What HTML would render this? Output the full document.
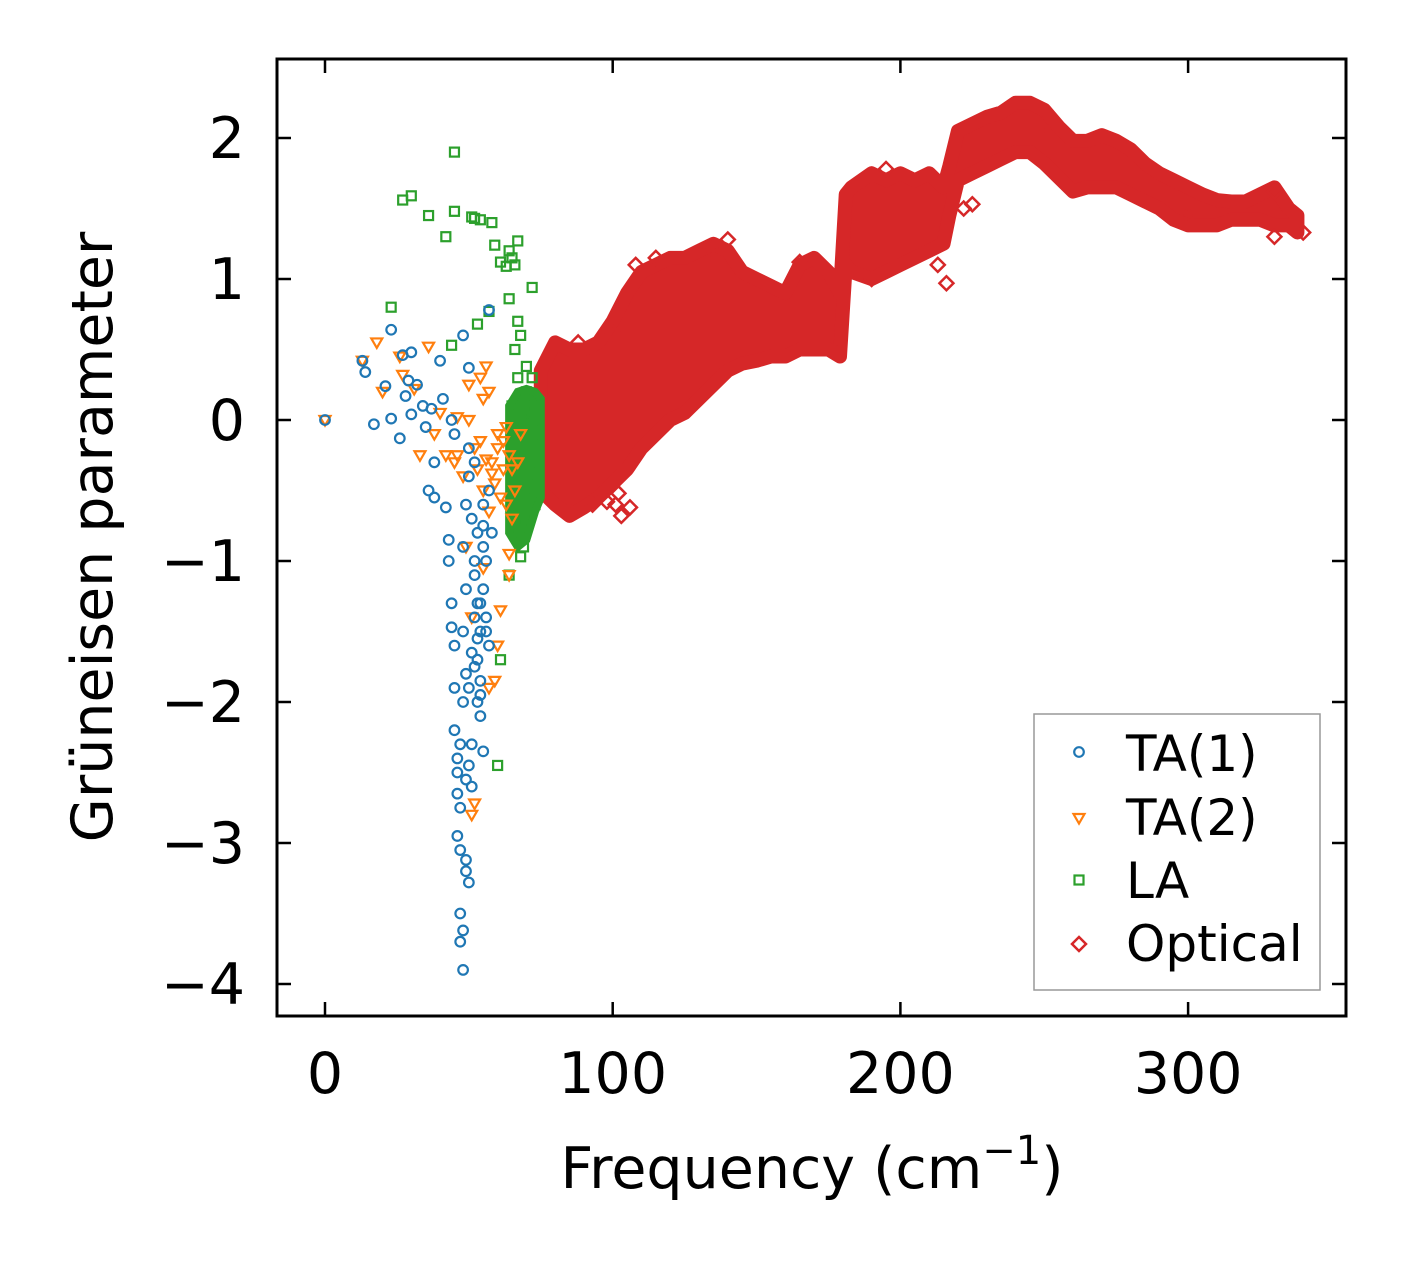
<!DOCTYPE html>
<html><head><meta charset="utf-8">
<style>
html,body{margin:0;padding:0;background:#fff;}
svg text{font-family:"DejaVu Sans","Liberation Sans",sans-serif;fill:#000;}
</style></head>
<body>
<svg id="chart" width="1406" height="1264" viewBox="0 0 1406 1264" xmlns="http://www.w3.org/2000/svg">
<rect x="0" y="0" width="1406" height="1264" fill="#fff"/>
<g id="marks"></g>
<g id="axes"></g>
</svg>
<script>
const xTicks=[0,100,200,300];
const yTicks=[-4,-3,-2,-1,0,1,2];
const ta1F=[0,13,14,17,21,23,23,26,27,28,29,30,30,32,34,35,36,37,38,38,40,41,42,43,43,44,44,45,45,45,46,46,46,47,47,48,47,48,49,49,50,47,48,49,48,49,48,49,50,50,51,52,52,53,54,55,53,55,56,57,55,57,58,50,48,45,44,46,47,49,51,53,54,50,51,52,57,54,56,55,52,53,54,55,56,50,51,52,53,54];
const ta1G=[0,0.42,0.34,-0.03,0.24,0.64,0.01,-0.13,0.46,0.17,0.28,0.48,0.04,0.25,0.1,-0.05,-0.5,0.08,-0.3,-0.55,0.42,0.15,-0.62,-0.85,-1.0,-1.3,-1.47,-1.6,-1.9,-2.2,-2.4,-2.65,-2.95,-3.05,-3.5,-3.9,-3.7,-3.62,-3.12,-3.2,-3.28,-2.3,-2.0,-1.8,-1.5,-1.2,-0.9,-0.6,-0.4,-0.2,-0.7,-1.0,-1.4,-1.7,-2.1,-2.35,-0.8,-1.2,-1.5,-1.6,-0.6,-0.5,-0.8,0.37,0.6,-0.1,0.0,-2.5,-2.75,-2.55,-2.3,-2.0,-1.85,-1.9,-1.65,-0.3,0.78,-1.3,-1.0,-0.9,-1.1,-1.3,-1.5,-0.75,-1.4,-2.45,-2.6,-1.75,-1.55,-1.95];
const ta2F=[0,13,18,20,26,27,31,33,36,38,40,42,45,46,48,50,52,54,55,56,57,58,60,62,63,64,64,61,60,59,57,51,52,50,53,55,57,60,64,66,68,65,49,51,46,56,58,62,63,55,59,61,65,67,54];
const ta2G=[0,0.42,0.55,0.2,0.45,0.32,0.22,-0.25,0.52,-0.1,0.05,-0.25,-0.3,0.02,-0.4,0.25,-0.2,0.3,0.15,0.38,0.2,-0.3,-0.1,-0.35,-0.6,-0.95,-1.1,-1.35,-1.6,-1.85,-1.9,-2.8,-2.72,0.0,-0.35,-0.5,-0.65,-0.2,-0.25,-0.5,-0.1,-0.7,-0.9,-1.4,-0.25,-0.28,-0.38,-0.15,-0.05,-1.05,-0.45,-0.55,-0.35,-0.3,-0.15];
const laF=[45,27,30,36,42,45,51,52,54,58,59,61,63,65,67,64,66,72,64,23,57,53,67,68,66,70,67,44,64,61,60,68,69,66,67,70,71,72,73,70,72,68,69,71,74,73,70,65,66,72];
const laG=[1.9,1.56,1.59,1.45,1.3,1.48,1.44,1.43,1.42,1.4,1.24,1.12,1.09,1.15,1.27,1.2,1.1,0.94,0.86,0.8,0.77,0.68,0.7,0.6,0.5,0.38,0.3,0.53,-1.1,-1.7,-2.45,-0.97,-0.9,-0.75,-0.6,-0.5,-0.3,-0.1,0.1,0.2,0.0,-0.2,0.05,-0.4,-0.2,-0.6,-0.7,0.1,-0.1,0.3];
const laBandF=[64,67,70,73,75];
const laBandLo=[-0.8,-0.9,-0.85,-0.65,-0.55];
const laBandHi=[0.1,0.2,0.22,0.2,0.15];
const optF=[75,80,85,90,95,100,105,110,115,120,125,130,135,140,145,150,155,160,165,170,175,179,181,183,190,195,200,205,210,215,217,220,225,230,235,240,245,250,255,260,265,270,275,280,285,290,295,300,305,310,315,320,325,330,335,338];
const optLo=[-0.5,-0.6,-0.68,-0.62,-0.55,-0.45,-0.35,-0.2,-0.1,0.0,0.05,0.15,0.25,0.35,0.4,0.42,0.45,0.45,0.5,0.5,0.5,0.45,1.1,1.05,1.0,1.05,1.1,1.15,1.2,1.25,1.45,1.7,1.75,1.8,1.85,1.9,1.9,1.82,1.72,1.62,1.65,1.65,1.65,1.6,1.55,1.5,1.42,1.38,1.38,1.38,1.42,1.42,1.42,1.38,1.38,1.33];
const optHi=[0.35,0.55,0.5,0.5,0.55,0.7,0.9,1.05,1.1,1.15,1.15,1.2,1.25,1.2,1.05,1.0,0.95,0.9,1.1,1.15,1.05,0.9,1.6,1.65,1.75,1.7,1.75,1.7,1.75,1.65,1.8,2.05,2.1,2.15,2.18,2.25,2.25,2.2,2.08,1.98,1.98,2.02,1.98,1.92,1.82,1.75,1.7,1.65,1.6,1.56,1.55,1.55,1.6,1.65,1.5,1.45];
const optOutF=[140,134,108,100,85,93,98,102,101,103,106,216,222,225,213,195,330,340,115,145,165,88,92,96,120,178,190,330,300,250];
const optOutG=[1.28,1.22,1.1,0.62,-0.65,-0.6,-0.58,-0.52,-0.6,-0.68,-0.62,0.97,1.5,1.53,1.1,1.78,1.3,1.33,1.15,1.0,1.12,0.55,0.5,-0.5,0.0,0.47,1.0,1.62,1.45,2.1];

const L=277,R=1346,T=59,B=1016;
const xs=v=>325+2.877*v;
const ys=v=>420-141*v;
const NS='http://www.w3.org/2000/svg';
const marks=document.getElementById('marks');
const axes=document.getElementById('axes');
function mk(tag,attrs,parent){const e=document.createElementNS(NS,tag);for(const k in attrs)e.setAttribute(k,attrs[k]);parent.appendChild(e);return e;}

let pts=[];
optF.forEach((f,i)=>pts.push(xs(f)+','+ys(optHi[i])));
for(let i=optF.length-1;i>=0;i--)pts.push(xs(optF[i])+','+ys(optLo[i]));
const band=mk('polygon',{points:pts.join(' '),fill:'#d62728',stroke:'#d62728','stroke-width':14,'stroke-linejoin':'round'},marks);


optOutF.forEach((f,i)=>{const x=xs(f),y=ys(optOutG[i]);
 const d=mk('polygon',{points:`${x},${y-7} ${x+7},${y} ${x},${y+7} ${x-7},${y}`,fill:'none',stroke:'#d62728','stroke-width':2.5},marks);
 
 });
pts=[];
laBandF.forEach((f,i)=>pts.push(xs(f)+','+ys(laBandHi[i])));
for(let i=laBandF.length-1;i>=0;i--)pts.push(xs(laBandF[i])+','+ys(laBandLo[i]));
const lb=mk('polygon',{points:pts.join(' '),fill:'#2ca02c',stroke:'#2ca02c','stroke-width':8,'stroke-linejoin':'miter'},marks);


laF.forEach((f,i)=>{const x=xs(f),y=ys(laG[i]);
 const r=mk('rect',{x:x-4.5,y:y-4.5,width:9,height:9,fill:'none',stroke:'#2ca02c','stroke-width':2.2},marks);
 
 });
ta2F.forEach((f,i)=>{const x=xs(f),y=ys(ta2G[i]);
 const p=mk('polygon',{points:`${x-5.5},${y-4} ${x+5.5},${y-4} ${x},${y+5.5}`,fill:'none',stroke:'#ff7f0e','stroke-width':2.2},marks);
 
 });
ta1F.forEach((f,i)=>{
 const c=mk('circle',{cx:xs(f),cy:ys(ta1G[i]),r:4.8,fill:'none',stroke:'#1f77b4','stroke-width':2.2},marks);
 
 });

const fr=mk('rect',{x:L,y:T,width:R-L,height:B-T,fill:'none',stroke:'#000','stroke-width':3},axes);


xTicks.forEach(v=>{const x=xs(v);
 mk('line',{x1:x,y1:B,x2:x,y2:B-14,stroke:'#000','stroke-width':2.5},axes);
 mk('line',{x1:x,y1:T,x2:x,y2:T+14,stroke:'#000','stroke-width':2.5},axes);
 const t=mk('text',{x:x,y:1093,'font-size':57,'text-anchor':'middle'},axes);t.textContent=v;
 
 });
yTicks.forEach(v=>{const y=ys(v);
 mk('line',{x1:L,y1:y,x2:L+14,y2:y,stroke:'#000','stroke-width':2.5},axes);
 mk('line',{x1:R,y1:y,x2:R-14,y2:y,stroke:'#000','stroke-width':2.5},axes);
 const t=mk('text',{x:245,y:y+20,'font-size':57,'text-anchor':'end'},axes);t.textContent=v<0?'\u2212'+(-v):v;
 
 });
</script>
<svg style="position:absolute;left:0;top:0" width="1406" height="1264">
<text x="812" y="1188" font-size="57" text-anchor="middle">Frequency (cm<tspan dy="-24" font-size="40">−1</tspan><tspan dy="24">)</tspan></text>
<text transform="translate(112,537) rotate(-90)" font-size="57" text-anchor="middle">Grüneisen parameter</text>
<g>
<rect x="1034" y="714" width="286" height="276" fill="#fff" stroke="#999" stroke-width="1.5"/>
<circle cx="1079" cy="752" r="4.8" fill="none" stroke="#1f77b4" stroke-width="2.2"/>
<text x="1126" y="771" font-size="50">TA(1)</text>
<polygon points="1073.5,814 1084.5,814 1079,823.5" fill="none" stroke="#ff7f0e" stroke-width="2.2"/>
<text x="1126" y="835" font-size="50">TA(2)</text>
<rect x="1074.5" y="875.5" width="9" height="9" fill="none" stroke="#2ca02c" stroke-width="2.2"/>
<text x="1126" y="898" font-size="50">LA</text>
<polygon points="1079,937 1086,944 1079,951 1072,944" fill="none" stroke="#d62728" stroke-width="2.5"/>
<text x="1126" y="961" font-size="50">Optical</text>
</g>
</svg>
</body></html>
